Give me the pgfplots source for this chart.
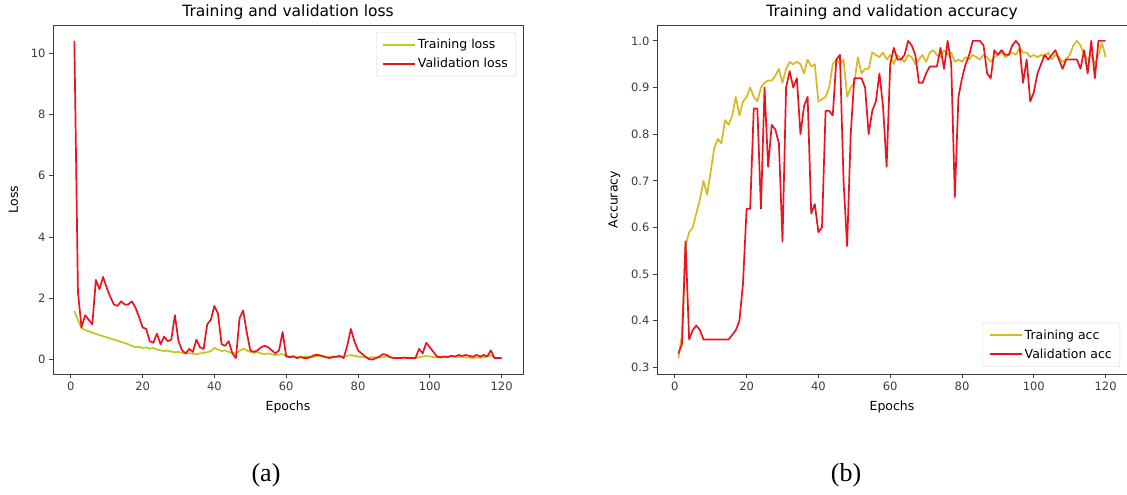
\documentclass[border=0pt]{standalone}
\usepackage{fontspec}
\setmainfont{DejaVu Sans}
\newfontfamily\capfont{Liberation Serif}
\usepackage{pgfplots}
\usepackage{pgfplotstable}
\pgfplotsset{compat=1.18}

\definecolor{trainloss}{RGB}{190,200,30}
\definecolor{trainacc}{RGB}{215,185,35}
\definecolor{valred}{RGB}{235,20,30}
\definecolor{framegray}{RGB}{60,60,60}
\definecolor{legendgray}{RGB}{210,210,210}

% epoch, training loss, validation loss, training acc, validation acc
\pgfplotstableread{
ep tl vl ta va
1 1.58 10.40 0.32 0.33
2 1.30 2.20 0.37 0.35
3 1.02 1.05 0.56 0.57
4 0.97 1.45 0.59 0.36
5 0.92 1.30 0.60 0.38
6 0.88 1.15 0.63 0.39
7 0.84 2.60 0.66 0.38
8 0.80 2.30 0.70 0.36
9 0.76 2.70 0.67 0.36
10 0.73 2.35 0.72 0.36
11 0.69 2.05 0.77 0.36
12 0.65 1.80 0.79 0.36
13 0.62 1.75 0.78 0.36
14 0.58 1.90 0.83 0.36
15 0.54 1.80 0.82 0.36
16 0.50 1.80 0.84 0.37
17 0.45 1.90 0.88 0.38
18 0.40 1.70 0.84 0.40
19 0.42 1.40 0.87 0.48
20 0.38 1.05 0.88 0.64
21 0.40 1.00 0.90 0.64
22 0.35 0.60 0.88 0.855
23 0.38 0.55 0.87 0.855
24 0.33 0.85 0.90 0.64
25 0.30 0.50 0.91 0.90
26 0.28 0.75 0.915 0.73
27 0.29 0.60 0.915 0.82
28 0.26 0.65 0.925 0.81
29 0.24 1.45 0.94 0.78
30 0.25 0.60 0.91 0.57
31 0.22 0.30 0.94 0.90
32 0.20 0.20 0.955 0.935
33 0.21 0.35 0.95 0.90
34 0.19 0.25 0.955 0.92
35 0.17 0.65 0.95 0.80
36 0.20 0.40 0.93 0.86
37 0.22 0.35 0.96 0.88
38 0.24 1.15 0.945 0.63
39 0.28 1.30 0.95 0.65
40 0.38 1.75 0.87 0.59
41 0.33 1.50 0.875 0.60
42 0.28 0.50 0.88 0.85
43 0.30 0.45 0.90 0.85
44 0.25 0.60 0.95 0.84
45 0.22 0.20 0.96 0.96
46 0.20 0.05 0.95 0.97
47 0.28 1.35 0.96 0.70
48 0.36 1.60 0.88 0.56
49 0.30 0.90 0.90 0.80
50 0.25 0.30 0.91 0.92
51 0.22 0.25 0.965 0.92
52 0.24 0.30 0.93 0.92
53 0.20 0.40 0.94 0.90
54 0.18 0.45 0.94 0.80
55 0.20 0.40 0.975 0.85
56 0.17 0.30 0.97 0.87
57 0.15 0.20 0.965 0.93
58 0.16 0.30 0.975 0.86
59 0.18 0.90 0.96 0.73
60 0.12 0.10 0.97 0.95
61 0.10 0.08 0.95 0.985
62 0.11 0.10 0.97 0.96
63 0.09 0.05 0.96 0.96
64 0.10 0.08 0.955 0.97
65 0.09 0.05 0.97 1.00
66 0.10 0.05 0.965 0.99
67 0.08 0.10 0.95 0.97
68 0.10 0.15 0.96 0.91
69 0.12 0.15 0.97 0.91
70 0.10 0.12 0.955 0.93
71 0.09 0.08 0.975 0.945
72 0.08 0.05 0.98 0.945
73 0.10 0.08 0.97 0.945
74 0.09 0.10 0.965 0.985
75 0.08 0.12 0.98 0.94
76 0.10 0.05 0.97 1.00
77 0.12 0.45 0.975 0.95
78 0.15 1.00 0.955 0.665
79 0.12 0.60 0.96 0.88
80 0.10 0.30 0.955 0.92
81 0.08 0.20 0.965 0.95
82 0.07 0.10 0.96 0.97
83 0.06 0.02 0.97 1.00
84 0.08 0.00 0.965 1.00
85 0.07 0.05 0.96 1.00
86 0.06 0.10 0.97 0.99
87 0.08 0.18 0.965 0.93
88 0.10 0.15 0.955 0.92
89 0.07 0.08 0.965 0.98
90 0.06 0.05 0.97 0.97
91 0.05 0.05 0.975 0.98
92 0.06 0.05 0.965 0.97
93 0.07 0.06 0.97 0.97
94 0.05 0.05 0.975 0.99
95 0.06 0.05 0.97 1.00
96 0.05 0.05 0.985 0.99
97 0.08 0.35 0.975 0.91
98 0.10 0.20 0.975 0.96
99 0.12 0.55 0.965 0.87
100 0.10 0.40 0.97 0.89
101 0.08 0.25 0.965 0.93
102 0.07 0.10 0.97 0.95
103 0.06 0.08 0.965 0.97
104 0.08 0.10 0.975 0.96
105 0.10 0.08 0.96 0.97
106 0.12 0.12 0.97 0.98
107 0.10 0.10 0.965 0.96
108 0.08 0.15 0.955 0.94
109 0.09 0.12 0.96 0.96
110 0.07 0.15 0.97 0.96
111 0.06 0.12 0.99 0.96
112 0.05 0.10 1.00 0.96
113 0.07 0.15 0.99 0.94
114 0.06 0.10 0.97 0.98
115 0.08 0.15 0.96 0.93
116 0.10 0.10 0.97 1.00
117 0.14 0.30 0.95 0.92
118 0.06 0.05 0.97 1.00
119 0.05 0.05 0.995 1.00
120 0.04 0.05 0.965 1.00
}\histdata

\pgfplotsset{
  mplstyle/.style={
    scale only axis, width=470pt, height=349pt,
    xmin=-4.95, xmax=125.95,
    xtick={0,20,40,60,80,100,120},
    axis line style={framegray, line width=0.9pt},
    tick align=outside, major tick length=4pt,
    tick style={framegray, line width=0.9pt},
    xtick pos=bottom, ytick pos=left,
    ticklabel style={font=\fontsize{11.5}{13}\selectfont, text=framegray},
    /pgf/number format/assume math mode=true,
    every axis title/.style={font=\fontsize{15.5}{18}\selectfont, at={(axis description cs:0.5,1)}, anchor=base, inner sep=0pt, yshift=8pt},
    xlabel style={font=\fontsize{12.5}{15}\selectfont, at={(axis description cs:0.5,0)}, anchor=north, inner sep=0pt, yshift=-27pt},
    ylabel style={font=\fontsize{12.5}{15}\selectfont, anchor=center, inner sep=0pt},
    legend cell align=left,
    legend style={font=\fontsize{12.5}{15}\selectfont, draw=legendgray, rounded corners=2pt, fill=white, inner xsep=6pt, inner ysep=5pt, row sep=4pt},
    legend image code/.code={\draw[#1] (0pt,0pt) -- (32pt,0pt);},
    every axis plot/.append style={line width=1.7pt, line join=round},
  }
}

\begin{document}
\begin{tikzpicture}[x=1pt, y=1pt]

\begin{axis}[mplstyle,
  at={(53pt,121pt)}, anchor=south west,
  ymin=-0.47, ymax=10.92,
  ytick={0,2,4,6,8,10},
  title={Training and validation loss},
  xlabel={Epochs},
  ylabel={Loss},
  ylabel style={at={(axis description cs:-0.084,0.5)}},
  legend style={at={(1,1)}, anchor=north east, xshift=-7pt, yshift=-7pt},
]
\addplot[trainloss] table[x=ep, y=tl] {\histdata};
\addlegendentry{Training loss}
\addplot[valred] table[x=ep, y=vl] {\histdata};
\addlegendentry{Validation loss}
\end{axis}

\begin{axis}[mplstyle,
  at={(657pt,121pt)}, anchor=south west,
  ymin=0.286, ymax=1.034,
  ytick={0.3,0.4,0.5,0.6,0.7,0.8,0.9,1.0},
  yticklabel style={/pgf/number format/.cd, fixed, fixed zerofill, precision=1},
  title={Training and validation accuracy},
  xlabel={Epochs},
  ylabel={Accuracy},
  ylabel style={at={(axis description cs:-0.0906,0.5)}},
  legend style={at={(1,0)}, anchor=south east, xshift=-7pt, yshift=7pt},
]
\addplot[trainacc] table[x=ep, y=ta] {\histdata};
\addlegendentry{Training acc}
\addplot[valred] table[x=ep, y=va] {\histdata};
\addlegendentry{Validation acc}
\end{axis}

\node[font=\capfont\fontsize{26}{30}\selectfont] at (266,20) {(a)};
\node[font=\capfont\fontsize{26}{30}\selectfont] at (846,20) {(b)};

\pgfresetboundingbox
\useasboundingbox (0,0) rectangle (1127,495);
\end{tikzpicture}
\end{document}
